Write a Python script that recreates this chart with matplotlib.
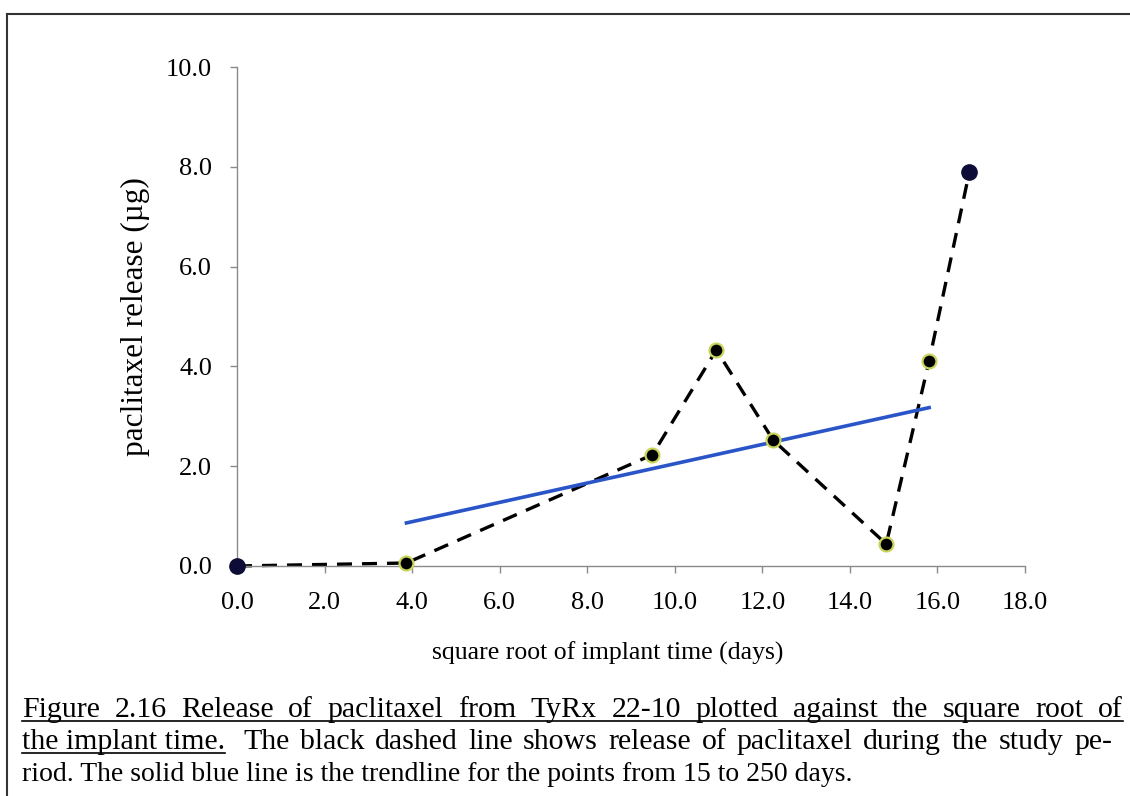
import numpy as np
import matplotlib.pyplot as plt
from matplotlib.lines import Line2D

plt.rcParams['font.family'] = ['Liberation Serif', 'DejaVu Serif']

# square root of implant time (days) and cumulative release (ug)
sqrt_days = [0.0, 3.87, 9.49, 10.95, 12.25, 14.83, 15.81, 16.73]
release = [0.0, 0.06, 2.23, 4.33, 2.52, 0.44, 4.11, 7.90]

# trendline is fitted to the points from 15 to 250 days
fit_x = sqrt_days[1:7]
fit_y = release[1:7]

xticks = np.arange(0, 18.1, 2.0)
yticks = np.arange(0, 10.1, 2.0)

caption_1 = "Figure 2.16 Release of paclitaxel from TyRx 22-10 plotted against the square root of"
caption_2a = "the implant time."
caption_2b = "The black dashed line shows release of paclitaxel during the study pe-"
caption_3 = "riod. The solid blue line is the trendline for the points from 15 to 250 days."

W, H = 1130, 796
fig = plt.figure(figsize=(W / 100, H / 100), dpi=100)
ax = fig.add_axes([237 / W, 1 - 566 / H, (1025 - 237) / W, (566 - 67) / H])

ax.plot(sqrt_days, release, color='black', linestyle=(0, (4.5, 3)), linewidth=2.4, zorder=2)
ax.plot(sqrt_days[1:7], release[1:7], linestyle='none', marker='o', markersize=10,
        markerfacecolor='black', markeredgecolor='#c9d45a', markeredgewidth=1.6, zorder=4)
ax.plot([sqrt_days[0], sqrt_days[-1]], [release[0], release[-1]], linestyle='none',
        marker='o', markersize=11, color='#0c0c36', zorder=4)

slope, icpt = np.polyfit(fit_x, fit_y, 1)
tx = np.array([fit_x[0], fit_x[-1]])
ax.plot(tx, slope * tx + icpt, color='#2a55c8', linewidth=2.6, zorder=3)

ax.set_xlim(0, 18)
ax.set_ylim(0, 10)
ax.set_xticks(xticks)
ax.set_yticks(yticks)
ax.set_xticklabels([f"{v:.1f}" for v in xticks])
ax.set_yticklabels([f"{v:.1f}" for v in yticks])
for s in ['top', 'right']:
    ax.spines[s].set_visible(False)
for s in ['left', 'bottom']:
    ax.spines[s].set_color('#8a8a8a')
    ax.spines[s].set_linewidth(1.0)
ax.tick_params(direction='out', length=5, width=1.0, color='#8a8a8a', labelsize=19)
ax.tick_params(axis='x', pad=14)
ax.tick_params(axis='y', pad=13)
ax.set_xlabel("square root of implant time (days)", fontsize=18.5)
ax.set_ylabel("paclitaxel release (\u00b5g)", fontsize=22.5)
ax.xaxis.set_label_coords((608 - 237) / (1025 - 237), -(653 - 566) / (566 - 67))
ax.yaxis.set_label_coords(-(237 - 135) / (1025 - 237), 0.5)
ax.xaxis.label.set_va('center')
ax.yaxis.label.set_va('center')
for ln in ax.lines:
    ln.set_clip_on(False)

# frame around the figure
fig.add_artist(Line2D([7 / W, 1.0], [1 - 14 / H, 1 - 14 / H], color='#333333', linewidth=1.5))
fig.add_artist(Line2D([7 / W, 7 / W], [0.0, 1 - 14 / H], color='#333333', linewidth=1.5))

r = fig.canvas.get_renderer()


def justified(text, x0, x1, y, size):
    # spread the words of one caption line evenly between x0 and x1 (pixels)
    words = text.split()
    arts = [fig.text(0, 1 - y / H, w, fontsize=size, va='baseline') for w in words]
    widths = [a.get_window_extent(r).width for a in arts]
    gap = (x1 - x0 - sum(widths)) / max(len(words) - 1, 1)
    x = x0
    for a, w in zip(arts, widths):
        a.set_x(x / W)
        x += w + gap


def underline(x0, x1, y):
    fig.add_artist(Line2D([x0 / W, x1 / W], [1 - (y + 4) / H] * 2, color='black', linewidth=1.2))


justified(caption_1, 22, 1123, 717, 21.5)
underline(22, 1123, 717)
t2 = fig.text(22 / W, 1 - 749 / H, caption_2a, fontsize=21.5, va='baseline')
end2a = t2.get_window_extent(r).x1
underline(22, end2a, 749)
justified(caption_2b, end2a + 18, 1112, 749, 21.5)
fig.text(22 / W, 1 - 781 / H, caption_3, fontsize=20, va='baseline')

fig.savefig('out.png', dpi=100)
